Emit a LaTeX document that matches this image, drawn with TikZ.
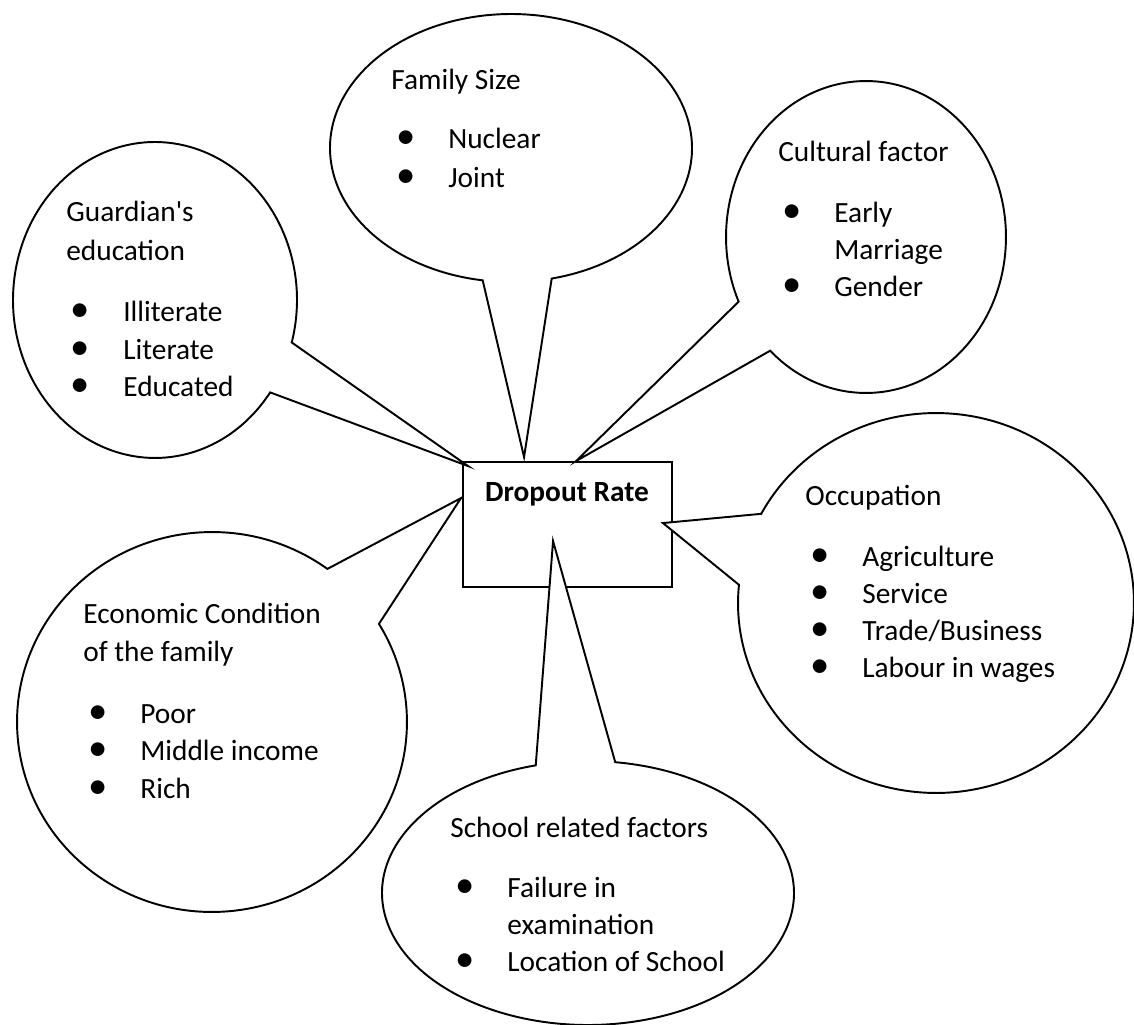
\documentclass[tikz,border=0pt]{standalone}
\usepackage{fontspec}
\setmainfont{Carlito}[Ligatures=TeXOff]
\usetikzlibrary{calc}
\begin{document}
\begin{tikzpicture}[x=0.02cm,y=0.02cm,
  bub/.style={draw=black,fill=white,line width=1.1pt,line join=miter},
  boxstyle/.style={draw=black,line width=1.1pt,inner sep=0pt,minimum width=4.18cm,minimum height=2.5cm},
  lbl/.style={anchor=base west,inner sep=0pt,font=\fontsize{16.7}{20}\selectfont},
  bul/.style={anchor=base,inner sep=0pt,font=\fontsize{22}{20}\selectfont},
  ttl/.style={anchor=base,inner sep=0pt,font=\fontsize{16.7}{20}\selectfont\bfseries}]
\useasboundingbox (0,0) rectangle (1134,-1025);

% central box
\node[boxstyle] (rect) at (567.5,-524.5) {};

% pointer tips
\coordinate (tG) at ($(rect.north west)+(6,-5)$);
\coordinate (tF) at ($(rect.north west)+(62,4)$);
\coordinate (tC) at ($(rect.north west)+(114,0)$);
\coordinate (tO) at ($(rect.north east)+(-10,-62)$);
\coordinate (tS) at ($(rect.north west)+(91,-80)$);
\coordinate (tE) at ($(rect.north west)+(-1,-37)$);

% callouts
\draw[bub] (511,-148) ++(283:3.62cm and 2.68cm) arc[start angle=283,end angle=621,x radius=3.62cm,y radius=2.68cm] -- (tF) -- cycle;
\draw[bub] (155,-300) ++(-15.6:2.84cm and 3.16cm) arc[start angle=-15.6,end angle=324.2,x radius=2.84cm,y radius=3.16cm] -- (tG) -- cycle;
\draw[bub] (866,-237) ++(226.8:2.80cm and 3.12cm) arc[start angle=226.8,end angle=564.5,x radius=2.80cm,y radius=3.12cm] -- (tC) -- cycle;
\draw[bub] (936,-603) ++(174.5:3.96cm and 3.80cm) arc[start angle=174.5,end angle=512,x radius=3.96cm,y radius=3.80cm] -- (tO) -- cycle;
\draw[bub] (212,-722) ++(53.7:3.90cm and 3.80cm) arc[start angle=53.7,end angle=391.1,x radius=3.90cm,y radius=3.80cm] -- (tE) -- cycle;
\draw[bub] (588,-893) ++(104.7:4.12cm and 2.64cm) arc[start angle=104.7,end angle=442.4,x radius=4.12cm,y radius=2.64cm] -- (tS) -- cycle;

% title
\node[ttl] (title) at (567,-501) {Dropout Rate};

% Family Size
\node[lbl] (fh) at (391,-89) {Family Size};
\node[bul] (fb1) at (406,-148) {•};
\node[lbl] (f1) at (448,-148) {Nuclear};
\node[bul] (fb2) at (406,-187) {•};
\node[lbl] (f2) at (448,-187) {Joint};

% Guardian's education
\node[lbl] (gh1) at (66,-221) {Guardian's};
\node[lbl] (gh2) at (66,-260) {education};
\node[bul] (gb1) at (80,-321) {•};
\node[lbl] (g1) at (123,-321) {Illiterate};
\node[bul] (gb2) at (80,-359) {•};
\node[lbl] (g2) at (123,-359) {Literate};
\node[bul] (gb3) at (80,-396) {•};
\node[lbl] (g3) at (123,-396) {Educated};

% Cultural factor
\node[lbl] (ch) at (778,-161) {Cultural factor};
\node[bul] (cb1) at (792,-222) {•};
\node[lbl] (c1) at (834,-222) {Early};
\node[lbl] (c1b) at (834,-259) {Marriage};
\node[bul] (cb2) at (792,-296) {•};
\node[lbl] (c2) at (834,-296) {Gender};

% Occupation
\node[lbl] (oh) at (805,-505) {Occupation};
\node[bul] (ob1) at (820,-566) {•};
\node[lbl] (o1) at (862,-566) {Agriculture};
\node[bul] (ob2) at (820,-603) {•};
\node[lbl] (o2) at (862,-603) {Service};
\node[bul] (ob3) at (820,-640.5) {•};
\node[lbl] (o3) at (862,-640.5) {Trade/Business};
\node[bul] (ob4) at (820,-677.5) {•};
\node[lbl] (o4) at (862,-677.5) {Labour in wages};

% Economic Condition
\node[lbl] (eh1) at (83,-623) {Economic Condition};
\node[lbl] (eh2) at (83,-661) {of the family};
\node[bul] (eb1) at (98,-723) {•};
\node[lbl] (e1) at (140,-723) {Poor};
\node[bul] (eb2) at (98,-760) {•};
\node[lbl] (e2) at (140,-760) {Middle income};
\node[bul] (eb3) at (98,-798) {•};
\node[lbl] (e3) at (140,-798) {Rich};

% School related factors
\node[lbl] (sh) at (450,-837) {School related factors};
\node[bul] (sb1) at (465,-897) {•};
\node[lbl] (s1) at (507,-897) {Failure in};
\node[lbl] (s1b) at (507,-934) {examination};
\node[bul] (sb2) at (465,-971) {•};
\node[lbl] (s2) at (507,-971) {Location of School};
\end{tikzpicture}
\end{document}
